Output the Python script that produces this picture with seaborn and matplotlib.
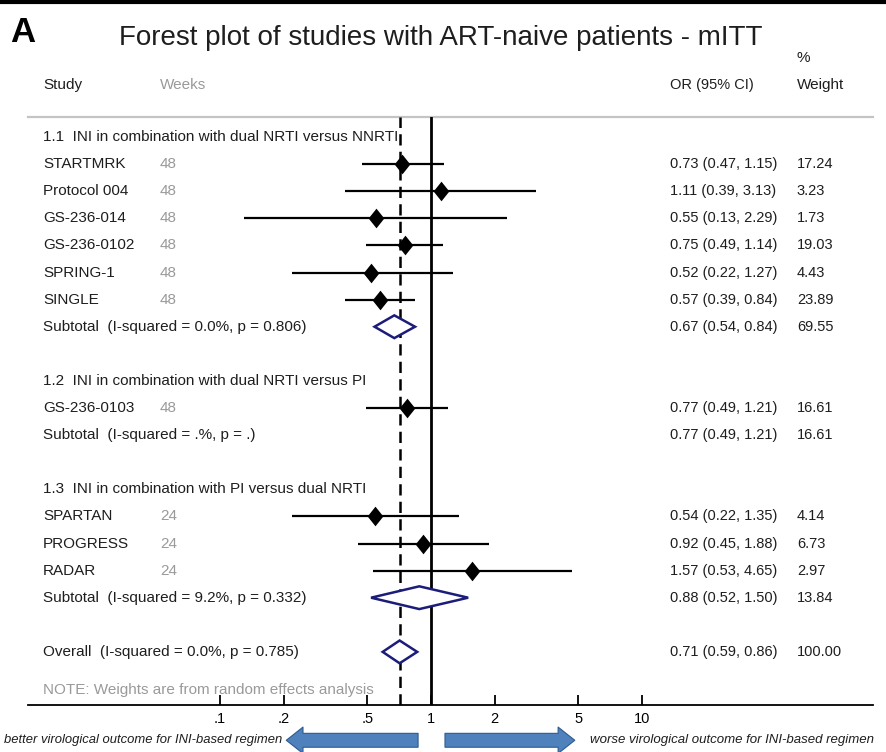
import numpy as np
import pandas as pd
import matplotlib
matplotlib.use("Agg")
import matplotlib.pyplot as plt
import matplotlib.ticker as mticker
from matplotlib.path import Path
from matplotlib.lines import Line2D
import seaborn as sns

# individual studies
studies = ["STARTMRK", "Protocol 004", "GS-236-014", "GS-236-0102", "SPRING-1", "SINGLE",
           "GS-236-0103", "SPARTAN", "PROGRESS", "RADAR"]
weeks = [48, 48, 48, 48, 48, 48, 48, 24, 24, 24]
odds = [0.73, 1.11, 0.55, 0.75, 0.52, 0.57, 0.77, 0.54, 0.92, 1.57]
ci_lo = [0.47, 0.39, 0.13, 0.49, 0.22, 0.39, 0.49, 0.22, 0.45, 0.53]
ci_hi = [1.15, 3.13, 2.29, 1.14, 1.27, 0.84, 1.21, 1.35, 1.88, 4.65]
weights = [17.24, 3.23, 1.73, 19.03, 4.43, 23.89, 16.61, 4.14, 6.73, 2.97]
study_rows = [1, 2, 3, 4, 5, 6, 10, 14, 15, 16]

# subtotals / overall
pooled_labels = ["Subtotal  (I-squared = 0.0%, p = 0.806)",
                 "Subtotal  (I-squared = .%, p = .)",
                 "Subtotal  (I-squared = 9.2%, p = 0.332)",
                 "Overall  (I-squared = 0.0%, p = 0.785)"]
pooled_or = [0.67, 0.77, 0.88, 0.71]
pooled_lo = [0.54, 0.49, 0.52, 0.59]
pooled_hi = [0.84, 1.21, 1.50, 0.86]
pooled_w = [69.55, 16.61, 13.84, 100.00]
pooled_rows = [7, 11, 17, 19]
pooled_diamond = [True, False, True, True]

groups = ["1.1  INI in combination with dual NRTI versus NNRTI",
          "1.2  INI in combination with dual NRTI versus PI",
          "1.3  INI in combination with PI versus dual NRTI"]
group_rows = [0, 9, 13]

xticks = [0.1, 0.2, 0.5, 1, 2, 5, 10]
xticklabels = [".1", ".2", ".5", "1", "2", "5", "10"]

df = pd.DataFrame({"study": studies, "weeks": weeks, "OR": odds, "lo": ci_lo,
                   "hi": ci_hi, "w": weights, "row": study_rows})

sns.set_theme(style="white")
plt.rcParams["font.family"] = ["Liberation Sans", "DejaVu Sans"]

fig = plt.figure(figsize=(8.86, 7.52), dpi=100)
ax = fig.add_axes([28 / 886, 1 - 705 / 752, 845 / 886, 588 / 752])
ax.set_xscale("log")
ax.set_xlim(0.0123, 124.4)
ax.set_ylim(20.96, -0.74)

TXT = "#1e1e1e"
GREY = "#9a9a9a"
NAVY = "#1c1c7a"

# reference lines
ax.axvline(1, color="black", lw=2.0, zorder=3)
ax.axvline(pooled_or[-1], color="black", lw=1.8, dashes=(4.5, 2.5), zorder=3)

# confidence intervals + point estimates
ax.hlines(df["row"], df["lo"], df["hi"], color="black", lw=1.6, zorder=4)
dia = Path([(0, 1), (0.8, 0), (0, -1), (-0.8, 0), (0, 1)],
           [Path.MOVETO, Path.LINETO, Path.LINETO, Path.LINETO, Path.CLOSEPOLY])
sns.scatterplot(data=df, x="OR", y="row", marker=dia, s=200, color="black",
                edgecolor="black", linewidth=0, ax=ax, zorder=5, legend=False)

# pooled diamonds
for r, o, l, h, show in zip(pooled_rows, pooled_or, pooled_lo, pooled_hi, pooled_diamond):
    if show:
        ax.fill([l, o, h, o, l], [r, r - 0.42, r, r + 0.42, r], facecolor="white",
                edgecolor=NAVY, lw=1.8, zorder=6)

# text columns
xs_study, xs_weeks, xs_or, xs_w = 0.0178, 0.156, 0.760, 0.910
tr = ax.get_yaxis_transform()
fs = 11
fn = 10.5
for g, r in zip(groups, group_rows):
    ax.text(xs_study, r, g, transform=tr, va="center", fontsize=fs, color=TXT, zorder=2)
for s, wk, o, l, h, w, r in zip(studies, weeks, odds, ci_lo, ci_hi, weights, study_rows):
    ax.text(xs_study, r, s, transform=tr, va="center", fontsize=fs, color=TXT)
    ax.text(xs_weeks, r, str(wk), transform=tr, va="center", fontsize=fs, color=GREY)
    ax.text(xs_or, r, f"{o:.2f} ({l:.2f}, {h:.2f})", transform=tr, va="center", fontsize=fn, color=TXT)
    ax.text(xs_w, r, f"{w:.2f}", transform=tr, va="center", fontsize=fn, color=TXT)
for lab, o, l, h, w, r in zip(pooled_labels, pooled_or, pooled_lo, pooled_hi, pooled_w, pooled_rows):
    ax.text(xs_study, r, lab, transform=tr, va="center", fontsize=fs, color=TXT)
    ax.text(xs_or, r, f"{o:.2f} ({l:.2f}, {h:.2f})", transform=tr, va="center", fontsize=fn, color=TXT)
    ax.text(xs_w, r, f"{w:.2f}", transform=tr, va="center", fontsize=fn, color=TXT)

ax.text(xs_study, 20.4, "NOTE: Weights are from random effects analysis", transform=tr,
        va="center", fontsize=fs, color=GREY, zorder=1)

# column headers
ax.text(xs_study, -1.92, "Study", transform=tr, va="center", fontsize=fs, color=TXT)
ax.text(xs_weeks, -1.92, "Weeks", transform=tr, va="center", fontsize=fs, color=GREY)
ax.text(xs_or, -1.92, "OR (95% CI)", transform=tr, va="center", fontsize=fn, color=TXT)
ax.text(xs_w, -1.92, "Weight", transform=tr, va="center", fontsize=fs, color=TXT)
ax.text(xs_w, -2.92, "%", transform=tr, va="center", fontsize=fs, color=TXT)

# axes styling
for side in ["left", "right"]:
    ax.spines[side].set_visible(False)
ax.spines["top"].set_color("#c4c4c4")
ax.spines["top"].set_linewidth(1.6)
ax.spines["bottom"].set_color("black")
ax.spines["bottom"].set_linewidth(1.3)
ax.set_yticks([])
ax.set_xticks(xticks)
ax.set_xticklabels(xticklabels)
ax.xaxis.set_minor_locator(mticker.NullLocator())
ax.tick_params(axis="x", direction="in", length=7, width=1.3, pad=5, labelsize=10.5,
               colors="black", bottom=True)
ax.set_xlabel("")
ax.set_ylabel("")

# direction arrows
arrow_kw = dict(arrowstyle="simple,head_length=1.2,head_width=1.9,tail_width=1.0",
                mutation_scale=10, facecolor="#4f81bd", edgecolor="#2f5a8e", lw=0.8)
ax.annotate("", xy=(0.2, -0.06), xytext=(0.895, -0.06),
            xycoords=("data", "axes fraction"), arrowprops=arrow_kw, annotation_clip=False)
ax.annotate("", xy=(4.95, -0.06), xytext=(1.13, -0.06),
            xycoords=("data", "axes fraction"), arrowprops=arrow_kw, annotation_clip=False)
ax.text(0.197, -0.06, "better virological outcome for INI-based regimen", transform=ax.get_xaxis_transform(),
        ha="right", va="center", fontsize=9.35, style="italic", color=TXT)
ax.text(5.7, -0.06, "worse virological outcome for INI-based regimen", transform=ax.get_xaxis_transform(),
        ha="left", va="center", fontsize=9.5, style="italic", color=TXT)

# title, panel letter, top border
fig.text(441 / 886, 1 - 38 / 752, "Forest plot of studies with ART-naive patients - mITT",
         ha="center", va="center", fontsize=20, color=TXT)
fig.text(10 / 886, 1 - 32 / 752, "A", ha="left", va="center", fontsize=25, fontweight="bold", color="black")
fig.add_artist(Line2D([0, 1], [1 - 2 / 752, 1 - 2 / 752], color="black", lw=3, transform=fig.transFigure))

fig.savefig("out.png", dpi=100)
